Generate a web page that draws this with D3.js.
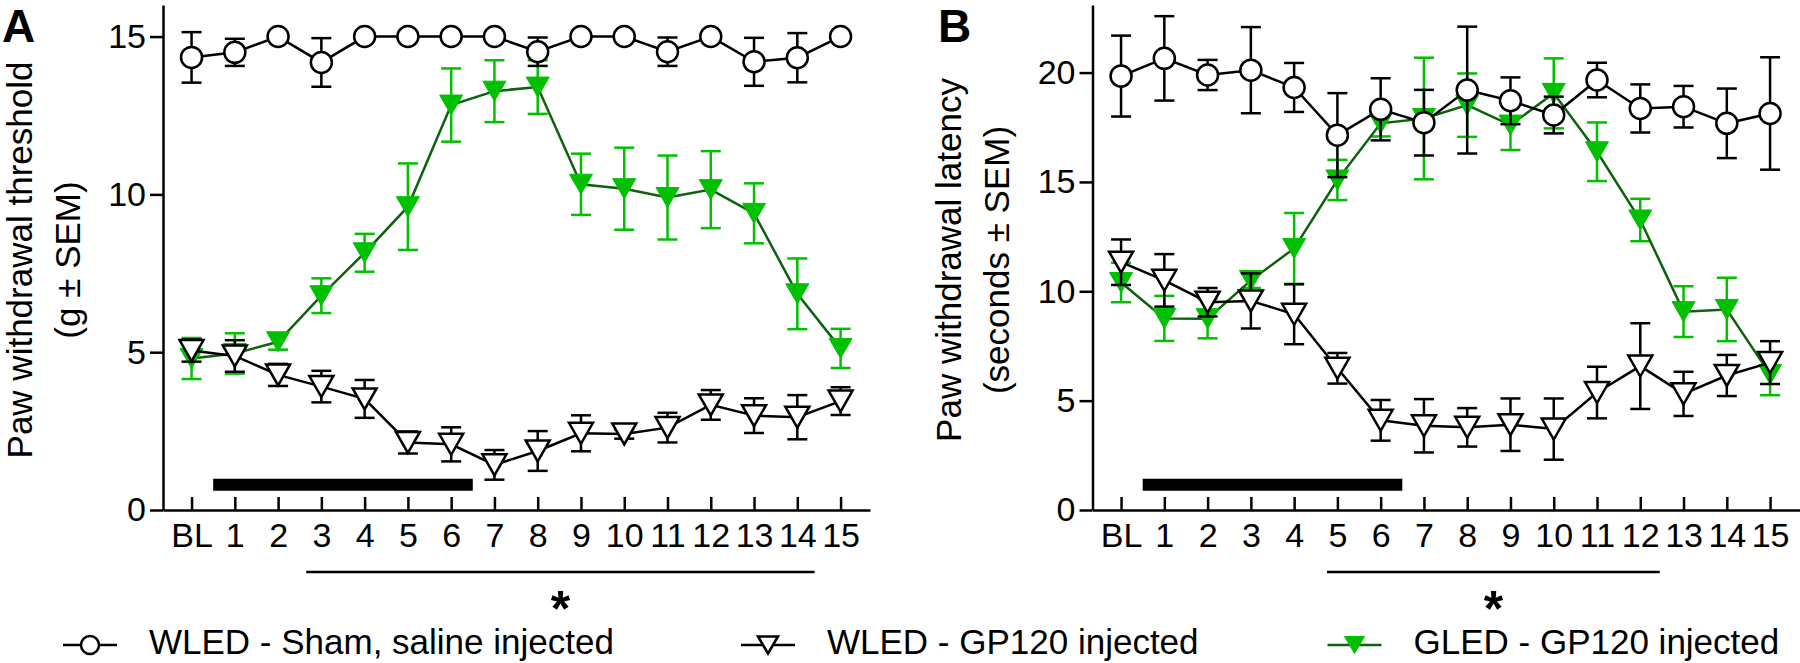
<!DOCTYPE html>
<html>
<head>
<meta charset="utf-8">
<script src="https://cdn.jsdelivr.net/npm/d3@7/dist/d3.min.js"></script>
<style>
  html, body { margin: 0; padding: 0; background: #fff; }
  svg { display: block; font-family: Arial, "Liberation Sans", sans-serif; }
</style>
</head>
<body>
<svg id="chart" width="1800" height="663"></svg>
<script>
// ---------------- DATA ----------------
const days = ["BL","1","2","3","4","5","6","7","8","9","10","11","12","13","14","15"];

const seriesNames = ["WLED - Sham, saline injected", "WLED - GP120 injected", "GLED - GP120 injected"];

// Panel A: Paw withdrawal threshold (g ± SEM)
const aShamMean  = [14.34, 14.5, 15.0, 14.18, 15.0, 15.0, 15.0, 15.0, 14.52, 15.0, 15.0, 14.52, 15.0, 14.2, 14.33, 15.0];
const aShamSem   = [0.8, 0.43, 0, 0.77, 0, 0, 0, 0, 0.45, 0, 0, 0.45, 0, 0.76, 0.78, 0];
const aWledMean  = [5.05, 4.88, 4.28, 3.91, 3.52, 2.14, 2.08, 1.43, 1.87, 2.43, 2.41, 2.61, 3.33, 2.99, 2.94, 3.45];
const aWledSem   = [0.35, 0.5, 0.35, 0.5, 0.6, 0.35, 0.54, 0.47, 0.63, 0.57, 0.15, 0.47, 0.47, 0.55, 0.7, 0.44];
const aGledMean  = [4.8, 4.96, 5.33, 6.79, 8.15, 9.61, 12.83, 13.27, 13.4, 10.32, 10.18, 9.9, 10.15, 9.4, 6.85, 5.12];
const aGledSem   = [0.65, 0.64, 0.25, 0.55, 0.6, 1.37, 1.16, 0.98, 0.85, 0.97, 1.3, 1.33, 1.22, 0.95, 1.12, 0.62];

// Panel B: Paw withdrawal latency (seconds ± SEM)
const bShamMean  = [19.84, 20.65, 19.89, 20.11, 19.32, 17.14, 18.32, 17.71, 19.2, 18.71, 18.06, 19.66, 18.36, 18.44, 17.68, 18.13];
const bShamSem   = [1.85, 1.93, 0.69, 1.97, 1.12, 1.92, 1.42, 1.5, 2.9, 1.07, 0.84, 0.79, 1.1, 0.95, 1.59, 2.57];
const bWledMean  = [11.33, 10.5, 9.5, 9.56, 8.95, 6.48, 4.1, 3.85, 3.78, 3.9, 3.7, 5.37, 6.58, 5.31, 6.15, 6.74];
const bWledSem   = [1.04, 1.2, 0.65, 1.26, 1.37, 0.7, 0.93, 1.22, 0.88, 1.2, 1.4, 1.18, 1.96, 1.01, 0.94, 0.98];
const bGledMean  = [10.4, 8.76, 8.75, 10.5, 11.96, 15.09, 17.68, 17.9, 18.51, 17.6, 19.05, 16.38, 13.26, 9.07, 9.17, 6.2];
const bGledSem   = [0.9, 1.03, 0.9, 0.35, 1.62, 0.92, 0.6, 2.78, 1.45, 1.14, 1.6, 1.34, 0.97, 1.16, 1.45, 0.95];

const aTicks = [0, 5, 10, 15];
const bTicks = [0, 5, 10, 15, 20];
const aMax = 16;
const bMax = 23.09;

// treatment bar (day index range, level) and significance range (day index units)
const aBar = [0.5, 6.5, 0.8];
const bBar = [0.5, 6.5, 1.15];
const aSig = [2.65, 14.4];
const bSig = [4.76, 12.45];

// ---------------- STYLE ----------------
const GREEN = "#00c000";
const DKGREEN = "#0d620d";
const SW = 2.5;
const FONT = 'Arial, "Liberation Sans", sans-serif';

const svg = d3.select("#chart");

function triPath(w, h) {
  return `M${-w/2},${-h/2}L${w/2},${-h/2}L0,${h/2}Z`;
}

function drawPanel(o) {
  const g = svg.append("g");
  const x = d3.scaleLinear().domain([-0.66, 15.68]).range([o.left, o.left + 707]);
  const y = d3.scaleLinear().domain([0, o.yMax]).range([510, 5]);

  // y axis
  const ya = g.append("g").attr("transform", `translate(${o.left},0)`)
    .call(d3.axisLeft(y).tickValues(o.ticks).tickSizeInner(13).tickSizeOuter(0).tickPadding(4));
  // x axis (ticks inside)
  const xa = g.append("g").attr("transform", `translate(0,510)`)
    .call(d3.axisBottom(x).tickValues(d3.range(days.length)).tickFormat(i => days[i])
      .tickSizeInner(-13).tickSizeOuter(0).tickPadding(13));
  [ya, xa].forEach(a => {
    a.attr("font-family", FONT).attr("font-size", 34);
    a.selectAll("path.domain, .tick line").attr("stroke", "#000").attr("stroke-width", SW);
    a.selectAll(".tick text").attr("fill", "#000");
  });
  xa.selectAll(".tick text").attr("y", 13).attr("dy", "0.71em");

  // axis title (two lines, rotated)
  const t = g.append("text").attr("transform", `translate(${o.titleX},260) rotate(-90)`)
    .attr("text-anchor", "middle").attr("font-size", 35).attr("font-family", FONT);
  t.append("tspan").attr("x", 0).attr("y", 0).text(o.title1);
  t.append("tspan").attr("x", 0).attr("y", 48).text(o.title2);

  // panel letter
  g.append("text").attr("x", o.letterX).attr("y", 42).attr("font-size", 46)
    .attr("font-weight", "bold").attr("font-family", FONT).text(o.letter);

  // treatment bar
  g.append("line").attr("x1", x(o.bar[0])).attr("x2", x(o.bar[1]))
    .attr("y1", y(o.bar[2])).attr("y2", y(o.bar[2]))
    .attr("stroke", "#000").attr("stroke-width", 12);

  // significance line + star
  g.append("line").attr("x1", x(o.sig[0])).attr("x2", x(o.sig[1]))
    .attr("y1", 572).attr("y2", 572).attr("stroke", "#000").attr("stroke-width", SW);
  g.append("text").attr("x", (x(o.sig[0]) + x(o.sig[1])) / 2).attr("y", 626)
    .attr("text-anchor", "middle").attr("font-size", 50).attr("font-weight", "bold")
    .attr("font-family", FONT).text("*");

  // series: green first, then white triangles, then circles
  const order = [2, 1, 0];
  order.forEach(si => {
    const s = o.series[si];
    const data = s.mean.map((m, i) => ({i, m, e: s.sem[i]}));
    const lineCol = si === 2 ? DKGREEN : "#000";
    const errCol = si === 2 ? GREEN : "#000";
    const sg = g.append("g");
    // error bars
    const eb = sg.selectAll("g.eb").data(data.filter(d => d.e > 0)).join("g");
    eb.append("line").attr("x1", d => x(d.i)).attr("x2", d => x(d.i))
      .attr("y1", d => y(d.m - d.e)).attr("y2", d => y(d.m + d.e))
      .attr("stroke", errCol).attr("stroke-width", SW);
    [-1, 1].forEach(sgn => {
      eb.append("line").attr("x1", d => x(d.i) - 10).attr("x2", d => x(d.i) + 10)
        .attr("y1", d => y(d.m + sgn * d.e)).attr("y2", d => y(d.m + sgn * d.e))
        .attr("stroke", errCol).attr("stroke-width", SW);
    });
    // line
    sg.append("path").datum(data)
      .attr("d", d3.line().x(d => x(d.i)).y(d => y(d.m)))
      .attr("fill", "none").attr("stroke", lineCol).attr("stroke-width", SW);
    // markers
    if (si === 0) {
      sg.selectAll("circle").data(data).join("circle")
        .attr("cx", d => x(d.i)).attr("cy", d => y(d.m)).attr("r", 10.5)
        .attr("fill", "#fff").attr("stroke", "#000").attr("stroke-width", SW);
    } else if (si === 1) {
      sg.selectAll("path.m").data(data).join("path").attr("class", "m")
        .attr("transform", d => `translate(${x(d.i)},${y(d.m)})`)
        .attr("d", triPath(24, 21))
        .attr("fill", "#fff").attr("stroke", "#000").attr("stroke-width", SW).attr("stroke-linejoin", "miter");
    } else {
      sg.selectAll("path.m").data(data).join("path").attr("class", "m")
        .attr("transform", d => `translate(${x(d.i)},${y(d.m)})`)
        .attr("d", triPath(23, 20))
        .attr("fill", GREEN).attr("stroke", GREEN).attr("stroke-width", 1);
    }
  });
}

drawPanel({
  left: 163, yMax: aMax, ticks: aTicks, titleX: 32,
  title1: "Paw withdrawal threshold", title2: "(g \u00B1 SEM)",
  letter: "A", letterX: 2, bar: aBar, sig: aSig,
  series: [{mean: aShamMean, sem: aShamSem}, {mean: aWledMean, sem: aWledSem}, {mean: aGledMean, sem: aGledSem}]
});
drawPanel({
  left: 1092.5, yMax: bMax, ticks: bTicks, titleX: 960.5,
  title1: "Paw withdrawal latency", title2: "(seconds \u00B1 SEM)",
  letter: "B", letterX: 938, bar: bBar, sig: bSig,
  series: [{mean: bShamMean, sem: bShamSem}, {mean: bWledMean, sem: bWledSem}, {mean: bGledMean, sem: bGledSem}]
});

// ---------------- LEGEND ----------------
const legendX = [90, 768, 1354.5];
const lg = svg.append("g");
seriesNames.forEach((name, k) => {
  const cx = legendX[k];
  const item = lg.append("g").attr("transform", `translate(${cx},645)`);
  item.append("line").attr("x1", -27).attr("x2", 27).attr("y1", 0).attr("y2", 0)
    .attr("stroke", k === 2 ? DKGREEN : "#000").attr("stroke-width", SW);
  if (k === 0) {
    item.append("circle").attr("r", 9).attr("fill", "#fff").attr("stroke", "#000").attr("stroke-width", SW);
  } else if (k === 1) {
    item.append("path").attr("d", triPath(20, 17)).attr("fill", "#fff").attr("stroke", "#000").attr("stroke-width", SW);
  } else {
    item.append("path").attr("d", triPath(20, 17)).attr("fill", GREEN).attr("stroke", GREEN).attr("stroke-width", 1);
  }
  lg.append("text").attr("x", cx + 59).attr("y", 654).attr("font-size", 35)
    .attr("font-family", FONT).attr("fill", "#000").text(name);
});
</script>
</body>
</html>
